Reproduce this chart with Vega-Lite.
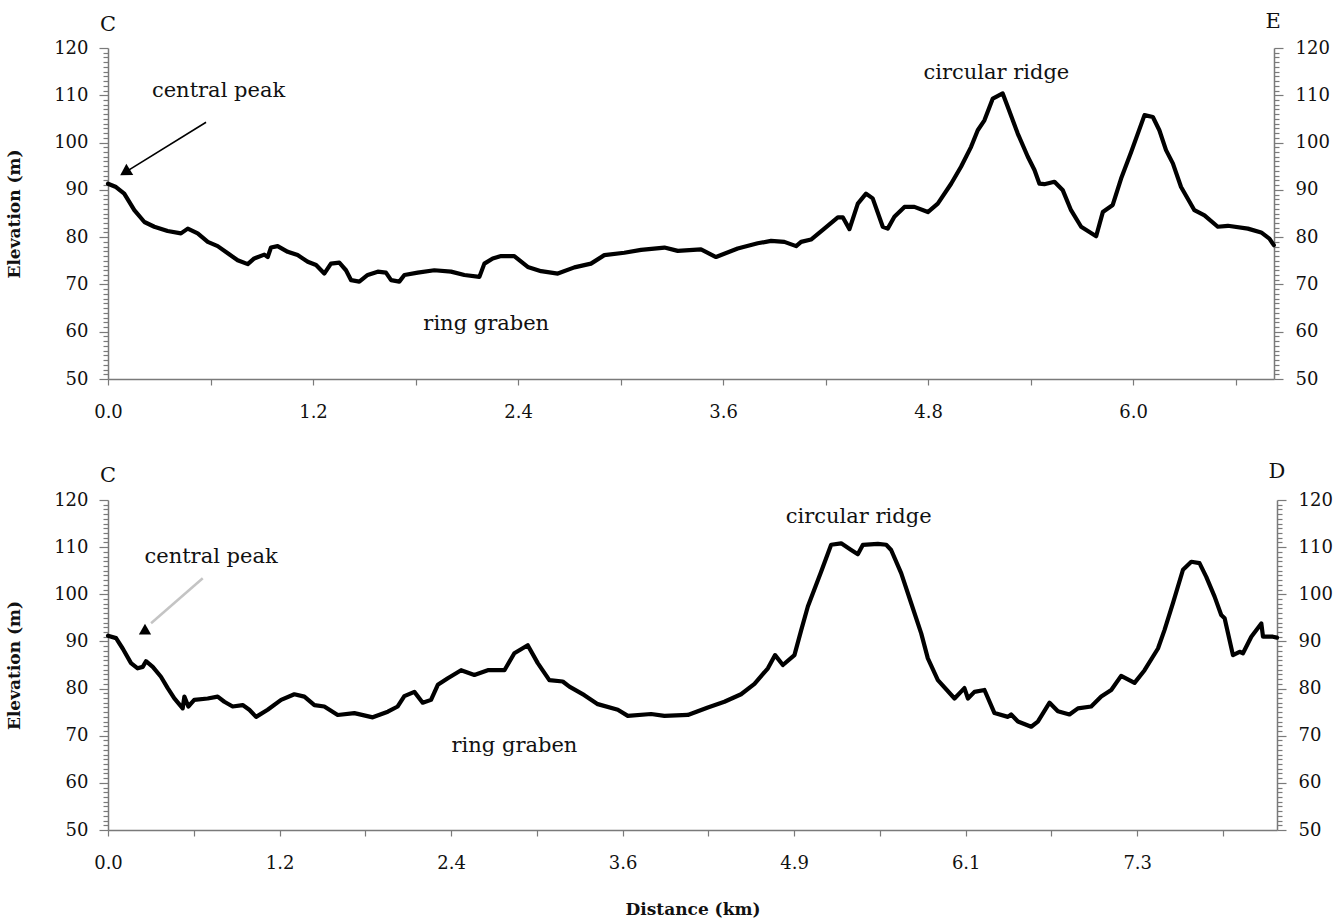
{
  "$schema": "https://vega.github.io/schema/vega-lite/v6.json",
  "padding": {"left": 5, "top": 11, "right": 5, "bottom": 5},
  "background": "white",
  "spacing": 39,
  "config": {
    "view": {"stroke": null},
    "font": "DejaVu Serif",
    "axis": {"labelFont": "DejaVu Serif", "titleFont": "DejaVu Serif", "labelColor": "#111", "titleColor": "#111", "domainColor": "#7a7a7a", "tickColor": "#7a7a7a", "domainWidth": 1.5, "tickWidth": 1.2, "grid": false, "labelOverlap": false, "labelFlush": false}
  },
  "vconcat": [
    {
      "width": 1166,
      "height": 331,
      "data": {"values": [
        {"k":"p","d":0.0,"e":91.3},{"k":"p","d":0.047,"e":90.6},{"k":"p","d":0.095,"e":89.2},{"k":"p","d":0.154,"e":85.7},{"k":"p","d":0.213,"e":83.2},{"k":"p","d":0.271,"e":82.2},{"k":"p","d":0.349,"e":81.3},{"k":"p","d":0.427,"e":80.8},{"k":"p","d":0.467,"e":81.8},{"k":"p","d":0.525,"e":80.8},{"k":"p","d":0.584,"e":79.0},{"k":"p","d":0.642,"e":78.1},{"k":"p","d":0.701,"e":76.6},{"k":"p","d":0.759,"e":75.1},{"k":"p","d":0.818,"e":74.3},{"k":"p","d":0.856,"e":75.5},{"k":"p","d":0.915,"e":76.3},{"k":"p","d":0.935,"e":75.8},{"k":"p","d":0.954,"e":77.8},{"k":"p","d":0.993,"e":78.1},{"k":"p","d":1.052,"e":76.9},{"k":"p","d":1.11,"e":76.2},{"k":"p","d":1.169,"e":74.8},{"k":"p","d":1.218,"e":74.1},{"k":"p","d":1.266,"e":72.3},{"k":"p","d":1.305,"e":74.4},{"k":"p","d":1.354,"e":74.6},{"k":"p","d":1.393,"e":73.0},{"k":"p","d":1.423,"e":70.9},{"k":"p","d":1.471,"e":70.6},{"k":"p","d":1.52,"e":72.0},{"k":"p","d":1.579,"e":72.7},{"k":"p","d":1.627,"e":72.5},{"k":"p","d":1.657,"e":70.9},{"k":"p","d":1.705,"e":70.6},{"k":"p","d":1.735,"e":72.0},{"k":"p","d":1.813,"e":72.5},{"k":"p","d":1.91,"e":73.0},{"k":"p","d":2.008,"e":72.7},{"k":"p","d":2.086,"e":72.0},{"k":"p","d":2.174,"e":71.6},{"k":"p","d":2.203,"e":74.4},{"k":"p","d":2.252,"e":75.5},{"k":"p","d":2.301,"e":76.0},{"k":"p","d":2.378,"e":76.0},{"k":"p","d":2.457,"e":73.7},{"k":"p","d":2.535,"e":72.8},{"k":"p","d":2.633,"e":72.3},{"k":"p","d":2.73,"e":73.6},{"k":"p","d":2.827,"e":74.4},{"k":"p","d":2.905,"e":76.2},{"k":"p","d":3.022,"e":76.7},{"k":"p","d":3.12,"e":77.3},{"k":"p","d":3.257,"e":77.8},{"k":"p","d":3.335,"e":77.1},{"k":"p","d":3.471,"e":77.4},{"k":"p","d":3.559,"e":75.8},{"k":"p","d":3.686,"e":77.6},{"k":"p","d":3.803,"e":78.7},{"k":"p","d":3.881,"e":79.2},{"k":"p","d":3.959,"e":79.0},{"k":"p","d":4.028,"e":78.1},{"k":"p","d":4.057,"e":79.0},{"k":"p","d":4.115,"e":79.5},{"k":"p","d":4.193,"e":81.8},{"k":"p","d":4.272,"e":84.2},{"k":"p","d":4.301,"e":84.2},{"k":"p","d":4.34,"e":81.7},{"k":"p","d":4.389,"e":87.1},{"k":"p","d":4.437,"e":89.2},{"k":"p","d":4.476,"e":88.2},{"k":"p","d":4.535,"e":82.2},{"k":"p","d":4.564,"e":81.8},{"k":"p","d":4.603,"e":84.3},{"k":"p","d":4.662,"e":86.4},{"k":"p","d":4.72,"e":86.4},{"k":"p","d":4.799,"e":85.3},{"k":"p","d":4.857,"e":87.1},{"k":"p","d":4.935,"e":91.3},{"k":"p","d":4.993,"e":94.9},{"k":"p","d":5.052,"e":99.1},{"k":"p","d":5.091,"e":102.6},{"k":"p","d":5.13,"e":104.7},{"k":"p","d":5.179,"e":109.3},{"k":"p","d":5.237,"e":110.4},{"k":"p","d":5.267,"e":107.5},{"k":"p","d":5.325,"e":101.9},{"k":"p","d":5.384,"e":97.0},{"k":"p","d":5.423,"e":94.2},{"k":"p","d":5.452,"e":91.3},{"k":"p","d":5.481,"e":91.2},{"k":"p","d":5.54,"e":91.7},{"k":"p","d":5.589,"e":89.9},{"k":"p","d":5.637,"e":85.7},{"k":"p","d":5.696,"e":82.2},{"k":"p","d":5.784,"e":80.2},{"k":"p","d":5.823,"e":85.3},{"k":"p","d":5.881,"e":86.8},{"k":"p","d":5.93,"e":92.4},{"k":"p","d":5.989,"e":98.0},{"k":"p","d":6.067,"e":105.8},{"k":"p","d":6.116,"e":105.4},{"k":"p","d":6.154,"e":102.6},{"k":"p","d":6.193,"e":98.4},{"k":"p","d":6.233,"e":95.6},{"k":"p","d":6.281,"e":90.6},{"k":"p","d":6.359,"e":85.7},{"k":"p","d":6.418,"e":84.6},{"k":"p","d":6.496,"e":82.2},{"k":"p","d":6.555,"e":82.4},{"k":"p","d":6.672,"e":81.8},{"k":"p","d":6.75,"e":81.0},{"k":"p","d":6.798,"e":79.7},{"k":"p","d":6.824,"e":78.3},
        {"k":"t","d":0.647,"e":109.6,"label":"central peak"},
        {"k":"t","d":5.2,"e":113.5,"label":"circular ridge"},
        {"k":"t","d":2.214,"e":60.35,"label":"ring graben"},
        {"k":"t","d":0.0,"e":123.7,"label":"C"},
        {"k":"t","d":6.82,"e":124.2,"label":"E"},
        {"k":"a","d":0.574,"e":104.3,"d2":0.0995,"e2":93.7},
        {"k":"h","d":0.0995,"e":93.7}
      ]},
      "encoding": {
        "x": {"field": "d", "type": "quantitative", "scale": {"domain": [0, 6.825], "nice": false, "zero": false},
          "axis": {"values": [0,0.6,1.2,1.8,2.4,3.0,3.6,4.2,4.8,5.4,6.0,6.6], "labelExpr": "abs(datum.value/1.2 - round(datum.value/1.2)) < 0.01 ? format(datum.value, '.1f') : ''", "tickSize": 6, "labelPadding": 18, "labelFontSize": 18, "title": null}}
      },
      "layer": [
        {"transform": [{"filter": "datum.k === 'p'"}], "mark": {"type": "line", "color": "black", "strokeWidth": 4.2, "strokeJoin": "round", "strokeCap": "round"},
          "encoding": {"y": {"field": "e", "type": "quantitative", "scale": {"domain": [50, 120], "nice": false, "zero": false},
            "axis": {"orient": "left", "values": [50,51,52,53,54,55,56,57,58,59,60,61,62,63,64,65,66,67,68,69,70,71,72,73,74,75,76,77,78,79,80,81,82,83,84,85,86,87,88,89,90,91,92,93,94,95,96,97,98,99,100,101,102,103,104,105,106,107,108,109,110,111,112,113,114,115,116,117,118,119,120],
              "labelExpr": "datum.value % 10 === 0 ? datum.label : ''", "tickSize": {"condition": {"test": "datum.value % 10 === 0", "value": 9}, "value": 5}, "labelPadding": 11, "labelFontSize": 18,
              "title": "Elevation (m)", "titleFontSize": 17, "titleFontWeight": "bold", "titlePadding": 30}}}},
        {"transform": [{"filter": "datum.k === 't'"}], "mark": {"type": "text", "fontSize": 21, "font": "DejaVu Serif", "color": "#111", "align": "center", "baseline": "alphabetic"},
          "encoding": {"y": {"field": "e", "type": "quantitative", "scale": {"domain": [50, 120], "nice": false, "zero": false},
            "axis": {"orient": "right", "values": [50,51,52,53,54,55,56,57,58,59,60,61,62,63,64,65,66,67,68,69,70,71,72,73,74,75,76,77,78,79,80,81,82,83,84,85,86,87,88,89,90,91,92,93,94,95,96,97,98,99,100,101,102,103,104,105,106,107,108,109,110,111,112,113,114,115,116,117,118,119,120],
              "labelExpr": "datum.value % 10 === 0 ? datum.label : ''", "tickSize": {"condition": {"test": "datum.value % 10 === 0", "value": 9}, "value": 5}, "labelPadding": 12, "labelFontSize": 18, "title": null}},
            "text": {"field": "label"}}},
        {"transform": [{"filter": "datum.k === 'a'"}], "mark": {"type": "rule", "color": "black", "strokeWidth": 1.6},
          "encoding": {"y": {"field": "e", "type": "quantitative", "axis": null}, "x2": {"field": "d2"}, "y2": {"field": "e2"}}},
        {"transform": [{"filter": "datum.k === 'h'"}], "mark": {"type": "point", "shape": "triangle-up", "filled": true, "color": "black", "opacity": 1, "size": 170, "angle": 238},
          "encoding": {"y": {"field": "e", "type": "quantitative", "axis": null}}}
      ],
      "resolve": {"axis": {"y": "independent"}}
    },
    {
      "width": 1169,
      "height": 330,
      "data": {"values": [
        {"k":"p","d":0.0,"e":91.2},{"k":"p","d":0.057,"e":90.7},{"k":"p","d":0.104,"e":88.5},{"k":"p","d":0.163,"e":85.4},{"k":"p","d":0.21,"e":84.3},{"k":"p","d":0.246,"e":84.6},{"k":"p","d":0.269,"e":85.8},{"k":"p","d":0.317,"e":84.6},{"k":"p","d":0.375,"e":82.5},{"k":"p","d":0.423,"e":80.1},{"k":"p","d":0.47,"e":77.9},{"k":"p","d":0.529,"e":75.8},{"k":"p","d":0.541,"e":78.3},{"k":"p","d":0.569,"e":76.2},{"k":"p","d":0.611,"e":77.6},{"k":"p","d":0.706,"e":77.9},{"k":"p","d":0.777,"e":78.3},{"k":"p","d":0.824,"e":77.2},{"k":"p","d":0.883,"e":76.2},{"k":"p","d":0.954,"e":76.5},{"k":"p","d":1.001,"e":75.5},{"k":"p","d":1.049,"e":74.0},{"k":"p","d":1.131,"e":75.5},{"k":"p","d":1.226,"e":77.6},{"k":"p","d":1.32,"e":78.8},{"k":"p","d":1.391,"e":78.3},{"k":"p","d":1.462,"e":76.5},{"k":"p","d":1.532,"e":76.2},{"k":"p","d":1.627,"e":74.4},{"k":"p","d":1.745,"e":74.8},{"k":"p","d":1.875,"e":73.9},{"k":"p","d":1.982,"e":75.1},{"k":"p","d":2.052,"e":76.2},{"k":"p","d":2.099,"e":78.4},{"k":"p","d":2.17,"e":79.3},{"k":"p","d":2.229,"e":77.0},{"k":"p","d":2.288,"e":77.6},{"k":"p","d":2.336,"e":80.8},{"k":"p","d":2.407,"e":82.2},{"k":"p","d":2.501,"e":83.9},{"k":"p","d":2.595,"e":82.9},{"k":"p","d":2.69,"e":83.9},{"k":"p","d":2.808,"e":83.9},{"k":"p","d":2.878,"e":87.5},{"k":"p","d":2.973,"e":89.2},{"k":"p","d":3.044,"e":85.4},{"k":"p","d":3.126,"e":81.8},{"k":"p","d":3.221,"e":81.5},{"k":"p","d":3.268,"e":80.4},{"k":"p","d":3.374,"e":78.6},{"k":"p","d":3.469,"e":76.7},{"k":"p","d":3.611,"e":75.5},{"k":"p","d":3.682,"e":74.2},{"k":"p","d":3.847,"e":74.6},{"k":"p","d":3.941,"e":74.2},{"k":"p","d":4.107,"e":74.4},{"k":"p","d":4.249,"e":76.0},{"k":"p","d":4.366,"e":77.2},{"k":"p","d":4.484,"e":78.8},{"k":"p","d":4.579,"e":81.0},{"k":"p","d":4.674,"e":84.3},{"k":"p","d":4.725,"e":87.1},{"k":"p","d":4.78,"e":85.0},{"k":"p","d":4.862,"e":87.1},{"k":"p","d":4.91,"e":92.4},{"k":"p","d":4.957,"e":97.4},{"k":"p","d":5.051,"e":104.8},{"k":"p","d":5.122,"e":110.5},{"k":"p","d":5.193,"e":110.8},{"k":"p","d":5.264,"e":109.4},{"k":"p","d":5.311,"e":108.5},{"k":"p","d":5.347,"e":110.5},{"k":"p","d":5.453,"e":110.7},{"k":"p","d":5.512,"e":110.5},{"k":"p","d":5.547,"e":109.4},{"k":"p","d":5.618,"e":104.5},{"k":"p","d":5.689,"e":98.1},{"k":"p","d":5.76,"e":91.7},{"k":"p","d":5.807,"e":86.4},{"k":"p","d":5.878,"e":81.8},{"k":"p","d":5.996,"e":77.9},{"k":"p","d":6.066,"e":80.1},{"k":"p","d":6.091,"e":77.9},{"k":"p","d":6.137,"e":79.3},{"k":"p","d":6.208,"e":79.7},{"k":"p","d":6.279,"e":74.8},{"k":"p","d":6.374,"e":74.0},{"k":"p","d":6.397,"e":74.5},{"k":"p","d":6.445,"e":73.0},{"k":"p","d":6.539,"e":71.9},{"k":"p","d":6.586,"e":73.0},{"k":"p","d":6.669,"e":77.0},{"k":"p","d":6.728,"e":75.2},{"k":"p","d":6.81,"e":74.5},{"k":"p","d":6.87,"e":75.8},{"k":"p","d":6.964,"e":76.2},{"k":"p","d":7.035,"e":78.3},{"k":"p","d":7.106,"e":79.7},{"k":"p","d":7.176,"e":82.7},{"k":"p","d":7.271,"e":81.2},{"k":"p","d":7.342,"e":83.9},{"k":"p","d":7.437,"e":88.5},{"k":"p","d":7.483,"e":92.4},{"k":"p","d":7.543,"e":98.1},{"k":"p","d":7.614,"e":105.2},{"k":"p","d":7.673,"e":106.9},{"k":"p","d":7.731,"e":106.6},{"k":"p","d":7.779,"e":103.7},{"k":"p","d":7.838,"e":99.5},{"k":"p","d":7.885,"e":95.6},{"k":"p","d":7.909,"e":94.9},{"k":"p","d":7.968,"e":87.1},{"k":"p","d":8.015,"e":87.8},{"k":"p","d":8.039,"e":87.5},{"k":"p","d":8.098,"e":91.0},{"k":"p","d":8.169,"e":93.8},{"k":"p","d":8.181,"e":91.0},{"k":"p","d":8.251,"e":91.0},{"k":"p","d":8.28,"e":90.8},
        {"k":"t","d":0.73,"e":106.6,"label":"central peak"},
        {"k":"t","d":5.317,"e":115.05,"label":"circular ridge"},
        {"k":"t","d":2.879,"e":66.6,"label":"ring graben"},
        {"k":"t","d":0.0,"e":123.8,"label":"C"},
        {"k":"t","d":8.28,"e":124.7,"label":"D"},
        {"k":"a","d":0.671,"e":103.4,"d2":0.305,"e2":93.85},
        {"k":"h","d":0.262,"e":92.6}
      ]},
      "encoding": {
        "x": {"field": "d", "type": "quantitative", "scale": {"domain": [0, 8.28], "nice": false, "zero": false},
          "axis": {"values": [0,0.6075,1.215,1.8225,2.43,3.0375,3.645,4.2525,4.86,5.4675,6.075,6.6825,7.29,7.8975], "labelExpr": "abs(datum.value/1.215 - round(datum.value/1.215)) < 0.01 ? format(datum.value, '.1f') : ''", "tickSize": 6, "labelPadding": 18, "labelFontSize": 18,
            "title": "Distance (km)", "titleFontSize": 17, "titleFontWeight": "bold", "titlePadding": 29}}
      },
      "layer": [
        {"transform": [{"filter": "datum.k === 'p'"}], "mark": {"type": "line", "color": "black", "strokeWidth": 4.2, "strokeJoin": "round", "strokeCap": "round"},
          "encoding": {"y": {"field": "e", "type": "quantitative", "scale": {"domain": [50, 120], "nice": false, "zero": false},
            "axis": {"orient": "left", "values": [50,51,52,53,54,55,56,57,58,59,60,61,62,63,64,65,66,67,68,69,70,71,72,73,74,75,76,77,78,79,80,81,82,83,84,85,86,87,88,89,90,91,92,93,94,95,96,97,98,99,100,101,102,103,104,105,106,107,108,109,110,111,112,113,114,115,116,117,118,119,120],
              "labelExpr": "datum.value % 10 === 0 ? datum.label : ''", "tickSize": {"condition": {"test": "datum.value % 10 === 0", "value": 9}, "value": 5}, "labelPadding": 11, "labelFontSize": 18,
              "title": "Elevation (m)", "titleFontSize": 17, "titleFontWeight": "bold", "titlePadding": 30}}}},
        {"transform": [{"filter": "datum.k === 't'"}], "mark": {"type": "text", "fontSize": 21, "font": "DejaVu Serif", "color": "#111", "align": "center", "baseline": "alphabetic"},
          "encoding": {"y": {"field": "e", "type": "quantitative", "scale": {"domain": [50, 120], "nice": false, "zero": false},
            "axis": {"orient": "right", "values": [50,51,52,53,54,55,56,57,58,59,60,61,62,63,64,65,66,67,68,69,70,71,72,73,74,75,76,77,78,79,80,81,82,83,84,85,86,87,88,89,90,91,92,93,94,95,96,97,98,99,100,101,102,103,104,105,106,107,108,109,110,111,112,113,114,115,116,117,118,119,120],
              "labelExpr": "datum.value % 10 === 0 ? datum.label : ''", "tickSize": {"condition": {"test": "datum.value % 10 === 0", "value": 9}, "value": 5}, "labelPadding": 12, "labelFontSize": 18, "title": null}},
            "text": {"field": "label"}}},
        {"transform": [{"filter": "datum.k === 'a'"}], "mark": {"type": "rule", "color": "#c4c4c4", "strokeWidth": 2.5},
          "encoding": {"y": {"field": "e", "type": "quantitative", "axis": null}, "x2": {"field": "d2"}, "y2": {"field": "e2"}}},
        {"transform": [{"filter": "datum.k === 'h'"}], "mark": {"type": "point", "shape": "triangle-up", "filled": true, "color": "black", "opacity": 1, "size": 150},
          "encoding": {"y": {"field": "e", "type": "quantitative", "axis": null}}}
      ],
      "resolve": {"axis": {"y": "independent"}}
    }
  ]
}
